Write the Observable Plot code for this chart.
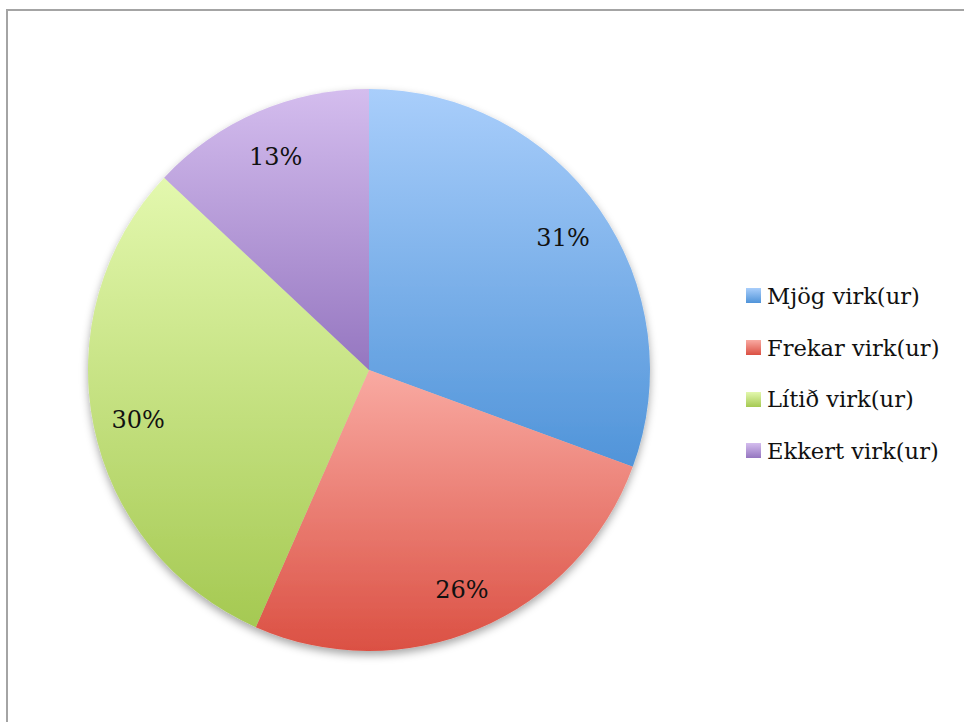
<!DOCTYPE html>
<html>
<head>
<meta charset="utf-8">
<script src="https://cdn.jsdelivr.net/npm/d3@7"></script>
<script src="https://cdn.jsdelivr.net/npm/@observablehq/plot@0.6"></script>
<style>
  html, body { margin: 0; padding: 0; background: #fff; }
  #wrap { position: relative; width: 964px; height: 722px; overflow: hidden; background: #fff; }
  #frame { position: absolute; left: 6px; top: 9px; right: -4px; bottom: -4px;
           border-left: 2px solid #a4a4a4; border-top: 2px solid #a4a4a4; }
  #chart { position: absolute; left: 0; top: 0; }
  #legend { position: absolute; left: 746px; top: 270px; font-family: "DejaVu Serif", serif; font-size: 22.6px; color: #111; }
  .row { display: flex; align-items: center; height: 51.7px; }
  .sw { width: 15px; height: 15px; margin-right: 6px; }
</style>
</head>
<body>
<div id="wrap"><div id="frame"></div><div id="chart"></div><div id="legend"></div></div>
<script>
const categories = ["Mjög virk(ur)", "Frekar virk(ur)", "Lítið virk(ur)", "Ekkert virk(ur)"];
const values = [30.6, 26.0, 30.4, 13.0];
const topColors = ["#a9cefb", "#f9aaa2", "#e3f8ae", "#d4bdee"];
const bottomColors = ["#5094d9", "#db5043", "#a5c952", "#9576c0"];

const data = categories.map((c, i) => ({category: c, value: values[i], i}));
const arcs = d3.pie().sort(null).value(d => d.value)(data);
const mid = a => (a.startAngle + a.endAngle) / 2;

function slices(index, scales) {
  const {x, y} = scales;
  const cx = x(0), cy = y(0), r = x(1) - x(0);
  const g = d3.create("svg:g");
  const defs = g.append("defs");
  arcs.forEach((a, i) => {
    const lg = defs.append("linearGradient").attr("id", "grad" + i)
      .attr("x1", 0).attr("y1", 0).attr("x2", 0).attr("y2", 1);
    lg.append("stop").attr("offset", "0%").attr("stop-color", topColors[i]);
    lg.append("stop").attr("offset", "100%").attr("stop-color", bottomColors[i]);
  });
  const f = defs.append("filter").attr("id", "shadow")
    .attr("x", "-10%").attr("y", "-10%").attr("width", "120%").attr("height", "125%");
  f.append("feDropShadow").attr("dx", 0).attr("dy", 4).attr("stdDeviation", 4)
    .attr("flood-color", "#000").attr("flood-opacity", 0.35);
  const arc = d3.arc().innerRadius(0).outerRadius(r);
  g.append("g").attr("transform", `translate(${cx},${cy})`).attr("filter", "url(#shadow)")
    .selectAll("path").data(arcs).join("path")
    .attr("d", arc)
    .attr("fill", (d, i) => `url(#grad${i})`);
  return g.node();
}

const plot = Plot.plot({
  width: 964,
  height: 722,
  margin: 0,
  x: {domain: [-1, 1], range: [88, 650], axis: null},
  y: {domain: [-1, 1], range: [651, 89], axis: null},
  marks: [
    slices,
    Plot.text(arcs, {
      x: a => 0.84 * Math.sin(mid(a)),
      y: a => 0.84 * Math.cos(mid(a)),
      text: a => Math.round(a.data.value) + "%",
      fontSize: 24,
      dy: 3,
      fontFamily: "DejaVu Serif, serif",
      fill: "#111"
    })
  ]
});
plot.style.background = "transparent";
document.getElementById("chart").appendChild(plot);

const legend = d3.select("#legend");
categories.forEach((c, i) => {
  const row = legend.append("div").attr("class", "row");
  row.append("div").attr("class", "sw")
    .style("background", `linear-gradient(${topColors[i]}, ${bottomColors[i]})`);
  row.append("span").text(c);
});
</script>
</body>
</html>
